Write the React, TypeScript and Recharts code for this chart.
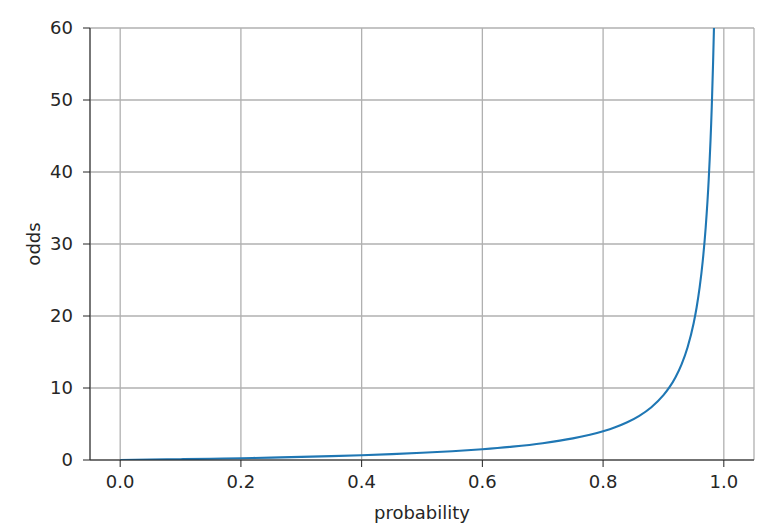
import React from 'react';
import { LineChart, Line, XAxis, YAxis, CartesianGrid } from 'recharts';

const probability = [
  0, 0.05, 0.1, 0.15, 0.2, 0.25, 0.3, 0.35, 0.4, 0.45, 0.5, 0.55, 0.6, 0.65, 0.7,
  0.75, 0.8, 0.82, 0.84, 0.86, 0.88, 0.9, 0.91, 0.92, 0.93, 0.94, 0.95, 0.955,
  0.96, 0.965, 0.97, 0.975, 0.98, 0.985, 0.99,
];
const odds = [
  0, 0.053, 0.111, 0.176, 0.25, 0.333, 0.429, 0.538, 0.667, 0.818, 1, 1.222, 1.5,
  1.857, 2.333, 3, 4, 4.556, 5.25, 6.143, 7.333, 9, 10.11, 11.5, 13.29, 15.67, 19,
  21.22, 24, 27.57, 32.33, 39, 49, 65.67, 99,
];
const xTicks = [0, 0.2, 0.4, 0.6, 0.8, 1.0];
const yTicks = [0, 10, 20, 30, 40, 50, 60];

const data = probability.map((p, i) => ({ p, odds: odds[i] }));

const FONT = 'DejaVu Sans';
const TEXT = '#262626';
const AXIS = '#222222';
const FS = 18;

export default function App() {
  return (
    <div style={{ position: 'absolute', left: 0, top: 0 }}>
      <LineChart
        width={764}
        height={530}
        data={data}
        margin={{ top: 28, right: 10, bottom: 0, left: 20 }}
      >
        <CartesianGrid stroke="#b0b0b0" strokeWidth={1.3} />
        <XAxis
          dataKey="p"
          type="number"
          domain={[-0.05, 1.05]}
          ticks={xTicks}
          tickFormatter={(v: number) => v.toFixed(1)}
          height={70}
          tickSize={7}
          tickMargin={8}
          stroke={AXIS}
          tick={{ fill: TEXT, fontSize: FS, fontFamily: FONT }}
          label={{
            content: (props: any) => {
              const vb = props.viewBox || {};
              return (
                <text
                  x={vb.x + vb.width / 2}
                  y={vb.y + 59}
                  textAnchor="middle"
                  fill={TEXT}
                  fontSize={FS}
                  fontFamily={FONT}
                >
                  probability
                </text>
              );
            },
          }}
        />
        <XAxis
          xAxisId="top"
          orientation="top"
          type="number"
          domain={[-0.05, 1.05]}
          height={0}
          tick={false}
          tickLine={false}
          stroke={AXIS}
        />
        <YAxis
          type="number"
          domain={[0, 60]}
          ticks={yTicks}
          allowDataOverflow
          width={70}
          tickSize={7}
          tickMargin={10}
          stroke={AXIS}
          tick={{ fill: TEXT, fontSize: FS, fontFamily: FONT }}
          label={{
            content: (props: any) => {
              const vb = props.viewBox || {};
              const x = vb.x + 20;
              const y = vb.y + vb.height / 2;
              return (
                <text
                  x={x}
                  y={y}
                  transform={`rotate(-90 ${x} ${y})`}
                  textAnchor="middle"
                  fill={TEXT}
                  fontSize={FS}
                  fontFamily={FONT}
                >
                  odds
                </text>
              );
            },
          }}
        />
        <YAxis
          yAxisId="right"
          orientation="right"
          type="number"
          domain={[0, 60]}
          width={0}
          tick={false}
          tickLine={false}
          stroke={AXIS}
        />
        <Line
          type="monotone"
          dataKey="odds"
          stroke="#1f77b4"
          strokeWidth={2.1}
          dot={false}
          isAnimationActive={false}
        />
      </LineChart>
    </div>
  );
}
